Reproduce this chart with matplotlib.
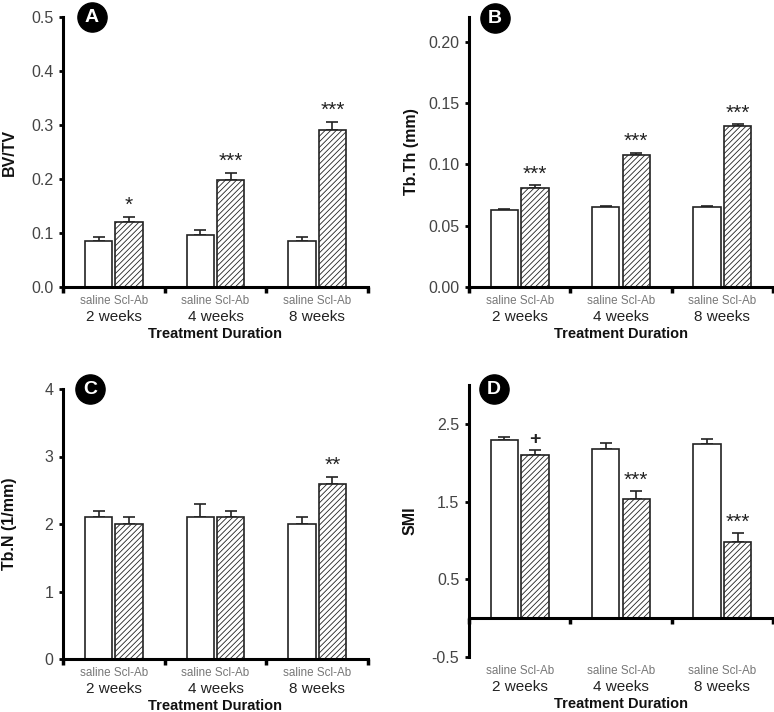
import matplotlib
matplotlib.use("Agg")
import matplotlib.pyplot as plt
import numpy as np

plt.rcParams['font.family'] = ['Liberation Sans', 'DejaVu Sans']
plt.rcParams['hatch.linewidth'] = 0.6
plt.rcParams['hatch.color'] = '#555555'

# Datos
groups = ['2 weeks', '4 weeks', '8 weeks']

bvtv_saline = [0.085, 0.096, 0.085]
bvtv_saline_err = [0.007, 0.010, 0.008]
bvtv_sclab = [0.121, 0.198, 0.291]
bvtv_sclab_err = [0.009, 0.014, 0.015]
bvtv_sig = ['*', '***', '***']

tbth_saline = [0.063, 0.065, 0.065]
tbth_saline_err = [0.0006, 0.0006, 0.0006]
tbth_sclab = [0.081, 0.1075, 0.131]
tbth_sclab_err = [0.002, 0.002, 0.0018]
tbth_sig = ['***', '***', '***']

tbn_saline = [2.1, 2.1, 2.0]
tbn_saline_err = [0.1, 0.2, 0.1]
tbn_sclab = [2.0, 2.1, 2.6]
tbn_sclab_err = [0.1, 0.1, 0.1]
tbn_sig = ['', '', '**']

smi_saline = [2.29, 2.18, 2.24]
smi_saline_err = [0.04, 0.08, 0.07]
smi_sclab = [2.10, 1.53, 0.98]
smi_sclab_err = [0.07, 0.10, 0.11]
smi_sig = ['+', '***', '***']

fig = plt.figure(figsize=(7.74, 7.12), dpi=100)
W, H = 774.0, 712.0


def make_ax(left, top, right, bottom):
    return fig.add_axes([left / W, 1 - bottom / H, (right - left) / W, (bottom - top) / H])


def panel(ax, sal, sal_e, scl, scl_e, sig, ylim, yticks, ytl, ylabel, letter, lpos, zero_axis=False):
    x = np.arange(len(groups))
    w = 0.27
    ax.bar(x - 0.15, sal, w, color='white', edgecolor='#222222', linewidth=1.2, zorder=2)
    ax.bar(x + 0.15, scl, w, color='white', edgecolor='#222222', linewidth=1.2,
           hatch='//////', zorder=2)
    ax.errorbar(x - 0.15, sal, yerr=[np.zeros(3), sal_e], fmt='none', ecolor='#222222',
                elinewidth=1.2, capsize=4, capthick=1.2, zorder=1)
    ax.errorbar(x + 0.15, scl, yerr=[np.zeros(3), scl_e], fmt='none', ecolor='#222222',
                elinewidth=1.2, capsize=4, capthick=1.2, zorder=1)
    for i, s in enumerate(sig):
        if s == '+':
            ax.annotate(s, (x[i] + 0.15, scl[i] + scl_e[i]), xytext=(0, 4),
                        textcoords='offset points', ha='center', va='baseline',
                        fontsize=14, fontweight='bold', color='#222222')
        elif s:
            ax.annotate(s, (x[i] + 0.15, scl[i] + scl_e[i]), xytext=(0, 4),
                        textcoords='offset points', ha='center', va='baseline',
                        fontsize=15, color='#222222')
    ax.set_xlim(-0.5, 2.5)
    ax.set_ylim(*ylim)
    ax.set_yticks(yticks)
    ax.set_yticklabels(ytl, fontsize=11.5, color='#444444')
    ax.set_xticks([-0.5, 0.5, 1.5, 2.5])
    ax.set_xticklabels([])
    ax.tick_params(axis='x', direction='out', length=4, width=2.5, color='black')
    ax.tick_params(axis='y', direction='out', length=3, width=2, color='black', pad=4)
    for s in ['top', 'right']:
        ax.spines[s].set_visible(False)
    ax.spines['left'].set_linewidth(2.2)
    ax.spines['bottom'].set_linewidth(2.2)
    if zero_axis:
        ax.spines['bottom'].set_position(('data', 0))
    ax.set_ylabel(ylabel, fontsize=11.5, fontweight='bold', color='#111111')
    for i, g in enumerate(groups):
        ax.annotate('saline Scl-Ab', (x[i], 0), xycoords=ax.get_xaxis_transform(),
                    xytext=(0, -10), textcoords='offset points', ha='center', va='center',
                    fontsize=8.4, color='#777777')
        ax.annotate(g, (x[i], 0), xycoords=ax.get_xaxis_transform(),
                    xytext=(0, -21.5), textcoords='offset points', ha='center', va='center',
                    fontsize=11, color='#222222')
    ax.annotate('Treatment Duration', (0.5, 0), xycoords='axes fraction',
                xytext=(0, -34), textcoords='offset points', ha='center', va='center',
                fontsize=10.5, fontweight='bold', color='#111111')
    ax.plot([lpos[0]], [lpos[1]], marker='o', ms=21, color='black',
            transform=ax.transAxes, clip_on=False, zorder=5)
    ax.text(lpos[0], lpos[1], letter, transform=ax.transAxes, ha='center', va='center',
            fontsize=14, fontweight='bold', color='white', zorder=6)


axA = make_ax(63, 17, 368, 287)
panel(axA, bvtv_saline, bvtv_saline_err, bvtv_sclab, bvtv_sclab_err, bvtv_sig,
      (0, 0.5), [0, 0.1, 0.2, 0.3, 0.4, 0.5], ['0.0', '0.1', '0.2', '0.3', '0.4', '0.5'],
      'BV/TV', 'A', (0.095, 1.0))
axA.yaxis.set_label_coords(-0.15, 0.5)

axB = make_ax(469, 17, 773, 287)
panel(axB, tbth_saline, tbth_saline_err, tbth_sclab, tbth_sclab_err, tbth_sig,
      (0, 0.22), [0, 0.05, 0.10, 0.15, 0.20], ['0.00', '0.05', '0.10', '0.15', '0.20'],
      'Tb.Th (mm)', 'B', (0.085, 0.995))
axB.yaxis.set_label_coords(-0.165, 0.5)

axC = make_ax(63, 389, 368, 659)
panel(axC, tbn_saline, tbn_saline_err, tbn_sclab, tbn_sclab_err, tbn_sig,
      (0, 4), [0, 1, 2, 3, 4], ['0', '1', '2', '3', '4'],
      'Tb.N (1/mm)', 'C', (0.09, 1.0))
axC.yaxis.set_label_coords(-0.15, 0.5)

axD = make_ax(469, 385, 773, 657)
panel(axD, smi_saline, smi_saline_err, smi_sclab, smi_sclab_err, smi_sig,
      (-0.5, 3.0), [-0.5, 0.5, 1.5, 2.5], ['-0.5', '0.5', '1.5', '2.5'],
      'SMI', 'D', (0.082, 0.985), zero_axis=True)
axD.yaxis.set_label_coords(-0.17, 0.5)

fig.savefig('out.png', dpi=100)
